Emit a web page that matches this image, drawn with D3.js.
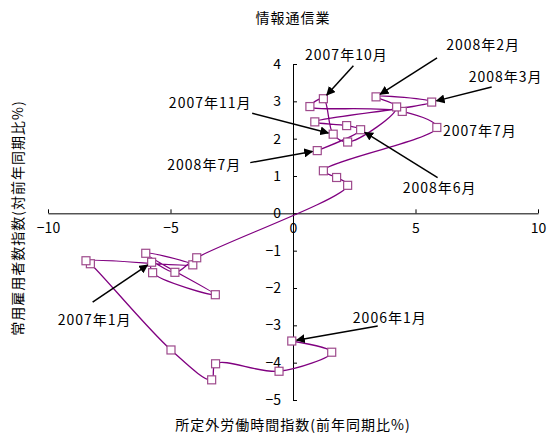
<!DOCTYPE html>
<html>
<head>
<meta charset="utf-8">
<script src="https://cdn.jsdelivr.net/npm/d3@7"></script>
<style>
  body { margin: 0; background: #fff; }
  text { font-family: "Noto Sans CJK JP", "Noto Sans", sans-serif; fill: #000; }
</style>
</head>
<body>
<div id="chart"></div>
<script>
// Monthly points, 2006年1月 .. 2008年7月
const months = [
  '2006年1月', '2006年2月', '2006年3月', '2006年4月', '2006年5月', '2006年6月',
  '2006年7月', '2006年8月', '2006年9月', '2006年10月', '2006年11月', '2006年12月',
  '2007年1月', '2007年2月', '2007年3月', '2007年4月', '2007年5月', '2007年6月',
  '2007年7月', '2007年8月', '2007年9月', '2007年10月', '2007年11月', '2007年12月',
  '2008年1月', '2008年2月', '2008年3月', '2008年4月', '2008年5月', '2008年6月', '2008年7月'
];
// 所定外労働時間指数 (x)
const overtime = [
  -0.05, 1.58, -0.57, -3.16, -3.32, -4.98,
  -8.27, -8.45, -4.09, -6.01, -3.17, -5.73,
  -5.77, -4.82, -3.93, 2.23, 1.78, 1.24,
  5.87, 4.46, 0.69, 1.24, 1.64, 2.23,
  4.23, 3.39, 5.66, 0.89, 2.19, 2.76, 0.99
];
// 常用雇用者数指数 (y)
const employment = [
  -3.42, -3.72, -4.23, -4.03, -4.46, -3.66,
  -1.35, -1.27, -1.38, -1.07, -2.18, -1.59,
  -1.31, -1.58, -1.19, 0.75, 0.96, 1.14,
  2.30, 2.73, 2.86, 3.07, 2.12, 1.91,
  2.85, 3.12, 2.98, 2.45, 2.35, 2.24, 1.68
];
const xTicks = [-10, -5, 0, 5, 10];
const yTicks = [-5, -4, -3, -2, -1, 0, 1, 2, 3, 4];

// callouts: which month, text offset and arrow tail offset (px from the point)
const callouts = [
  { m: '2007年10月', tx: 23, ty: -44, ax: 30, ay: -33 },
  { m: '2008年2月', tx: 107, ty: -52, ax: 61, ay: -39 },
  { m: '2008年3月', tx: 74, ty: -25, ax: 60, ay: -15 },
  { m: '2007年11月', tx: -123, ty: -31, ax: -81, ay: -21 },
  { m: '2007年7月', tx: 43, ty: 4, ax: null },
  { m: '2008年7月', tx: -113, ty: 14, ax: -67, ay: 12 },
  { m: '2008年6月', tx: 79, ty: 58, ax: 77, ay: 48 },
  { m: '2007年1月', tx: -57, ty: 58, ax: -59, ay: 40 },
  { m: '2006年1月', tx: 98, ty: -23, ax: 86, ay: -15 }
];

const data = months.map((m, i) => ({ m, x: overtime[i], y: employment[i] }));

const W = 554;
const H = 436;
const svg = d3.select('#chart').append('svg').attr('width', W).attr('height', H);

const x = d3.scaleLinear().domain([-10, 10]).range([48, 538]);
const y = d3.scaleLinear().domain([-5, 4]).range([400, 64]);

svg.append('defs').append('marker')
  .attr('id', 'arrow')
  .attr('viewBox', '0 0 10 10')
  .attr('refX', 9).attr('refY', 5)
  .attr('markerWidth', 6).attr('markerHeight', 6)
  .attr('orient', 'auto')
  .append('path').attr('d', 'M0,0 L10,5 L0,10 z').attr('fill', '#000');

// axes crossing at the origin
const xAxis = d3.axisBottom(x).tickValues(xTicks).tickSizeInner(-4).tickSizeOuter(0).tickPadding(10);
const yAxis = d3.axisLeft(y).tickValues(yTicks).tickSizeInner(-4).tickSizeOuter(0).tickPadding(12);

const gx = svg.append('g').attr('transform', `translate(0,${y(0)})`).call(xAxis);
const gy = svg.append('g').attr('transform', `translate(${x(0)},0)`).call(yAxis);
[gx, gy].forEach((g) => {
  g.select('.domain').attr('stroke', '#000');
  g.selectAll('.tick line').attr('stroke', '#000');
  g.selectAll('.tick text').attr('font-size', 14).attr('fill', '#000')
    .style('font-family', '"Noto Sans CJK JP", sans-serif');
});

// series line (smoothed) and square markers
const line = d3.line()
  .x((d) => x(d.x))
  .y((d) => y(d.y))
  .curve(d3.curveCatmullRom.alpha(0.5));

svg.append('path')
  .datum(data)
  .attr('fill', 'none')
  .attr('stroke', '#800080')
  .attr('stroke-width', 1.3)
  .attr('d', line);

svg.selectAll('rect.pt')
  .data(data).enter()
  .append('rect')
  .attr('class', 'pt')
  .attr('x', (d) => x(d.x) - 4)
  .attr('y', (d) => y(d.y) - 4)
  .attr('width', 8)
  .attr('height', 8)
  .attr('fill', '#fff')
  .attr('stroke', '#9e4a8c')
  .attr('stroke-width', 1.2);

// callouts
callouts.forEach((c) => {
  const d = data.find((p) => p.m === c.m);
  const px = x(d.x);
  const py = y(d.y);
  svg.append('text')
    .attr('x', px + c.tx)
    .attr('y', py + c.ty)
    .attr('dy', '0.35em')
    .attr('text-anchor', 'middle')
    .attr('font-size', 14)
    .attr('letter-spacing', 1)
    .text(c.m);
  if (c.ax !== null) {
    const len = Math.hypot(c.ax, c.ay);
    const gap = 5;
    svg.append('line')
      .attr('x1', px + c.ax).attr('y1', py + c.ay)
      .attr('x2', px + (c.ax / len) * gap).attr('y2', py + (c.ay / len) * gap)
      .attr('stroke', '#000')
      .attr('stroke-width', 1.5)
      .attr('marker-end', 'url(#arrow)');
  }
});

// titles
svg.append('text')
  .attr('x', 293).attr('y', 23)
  .attr('text-anchor', 'middle')
  .attr('font-size', 14)
  .attr('letter-spacing', 1)
  .text('情報通信業');

svg.append('text')
  .attr('x', 293).attr('y', 430)
  .attr('text-anchor', 'middle')
  .attr('font-size', 14)
  .attr('letter-spacing', 1)
  .text('所定外労働時間指数(前年同期比%)');

svg.append('text')
  .attr('transform', 'translate(23,218) rotate(-90)')
  .attr('text-anchor', 'middle')
  .attr('font-size', 14)
  .attr('letter-spacing', 1)
  .text('常用雇用者数指数(対前年同期比%)');
</script>
</body>
</html>
